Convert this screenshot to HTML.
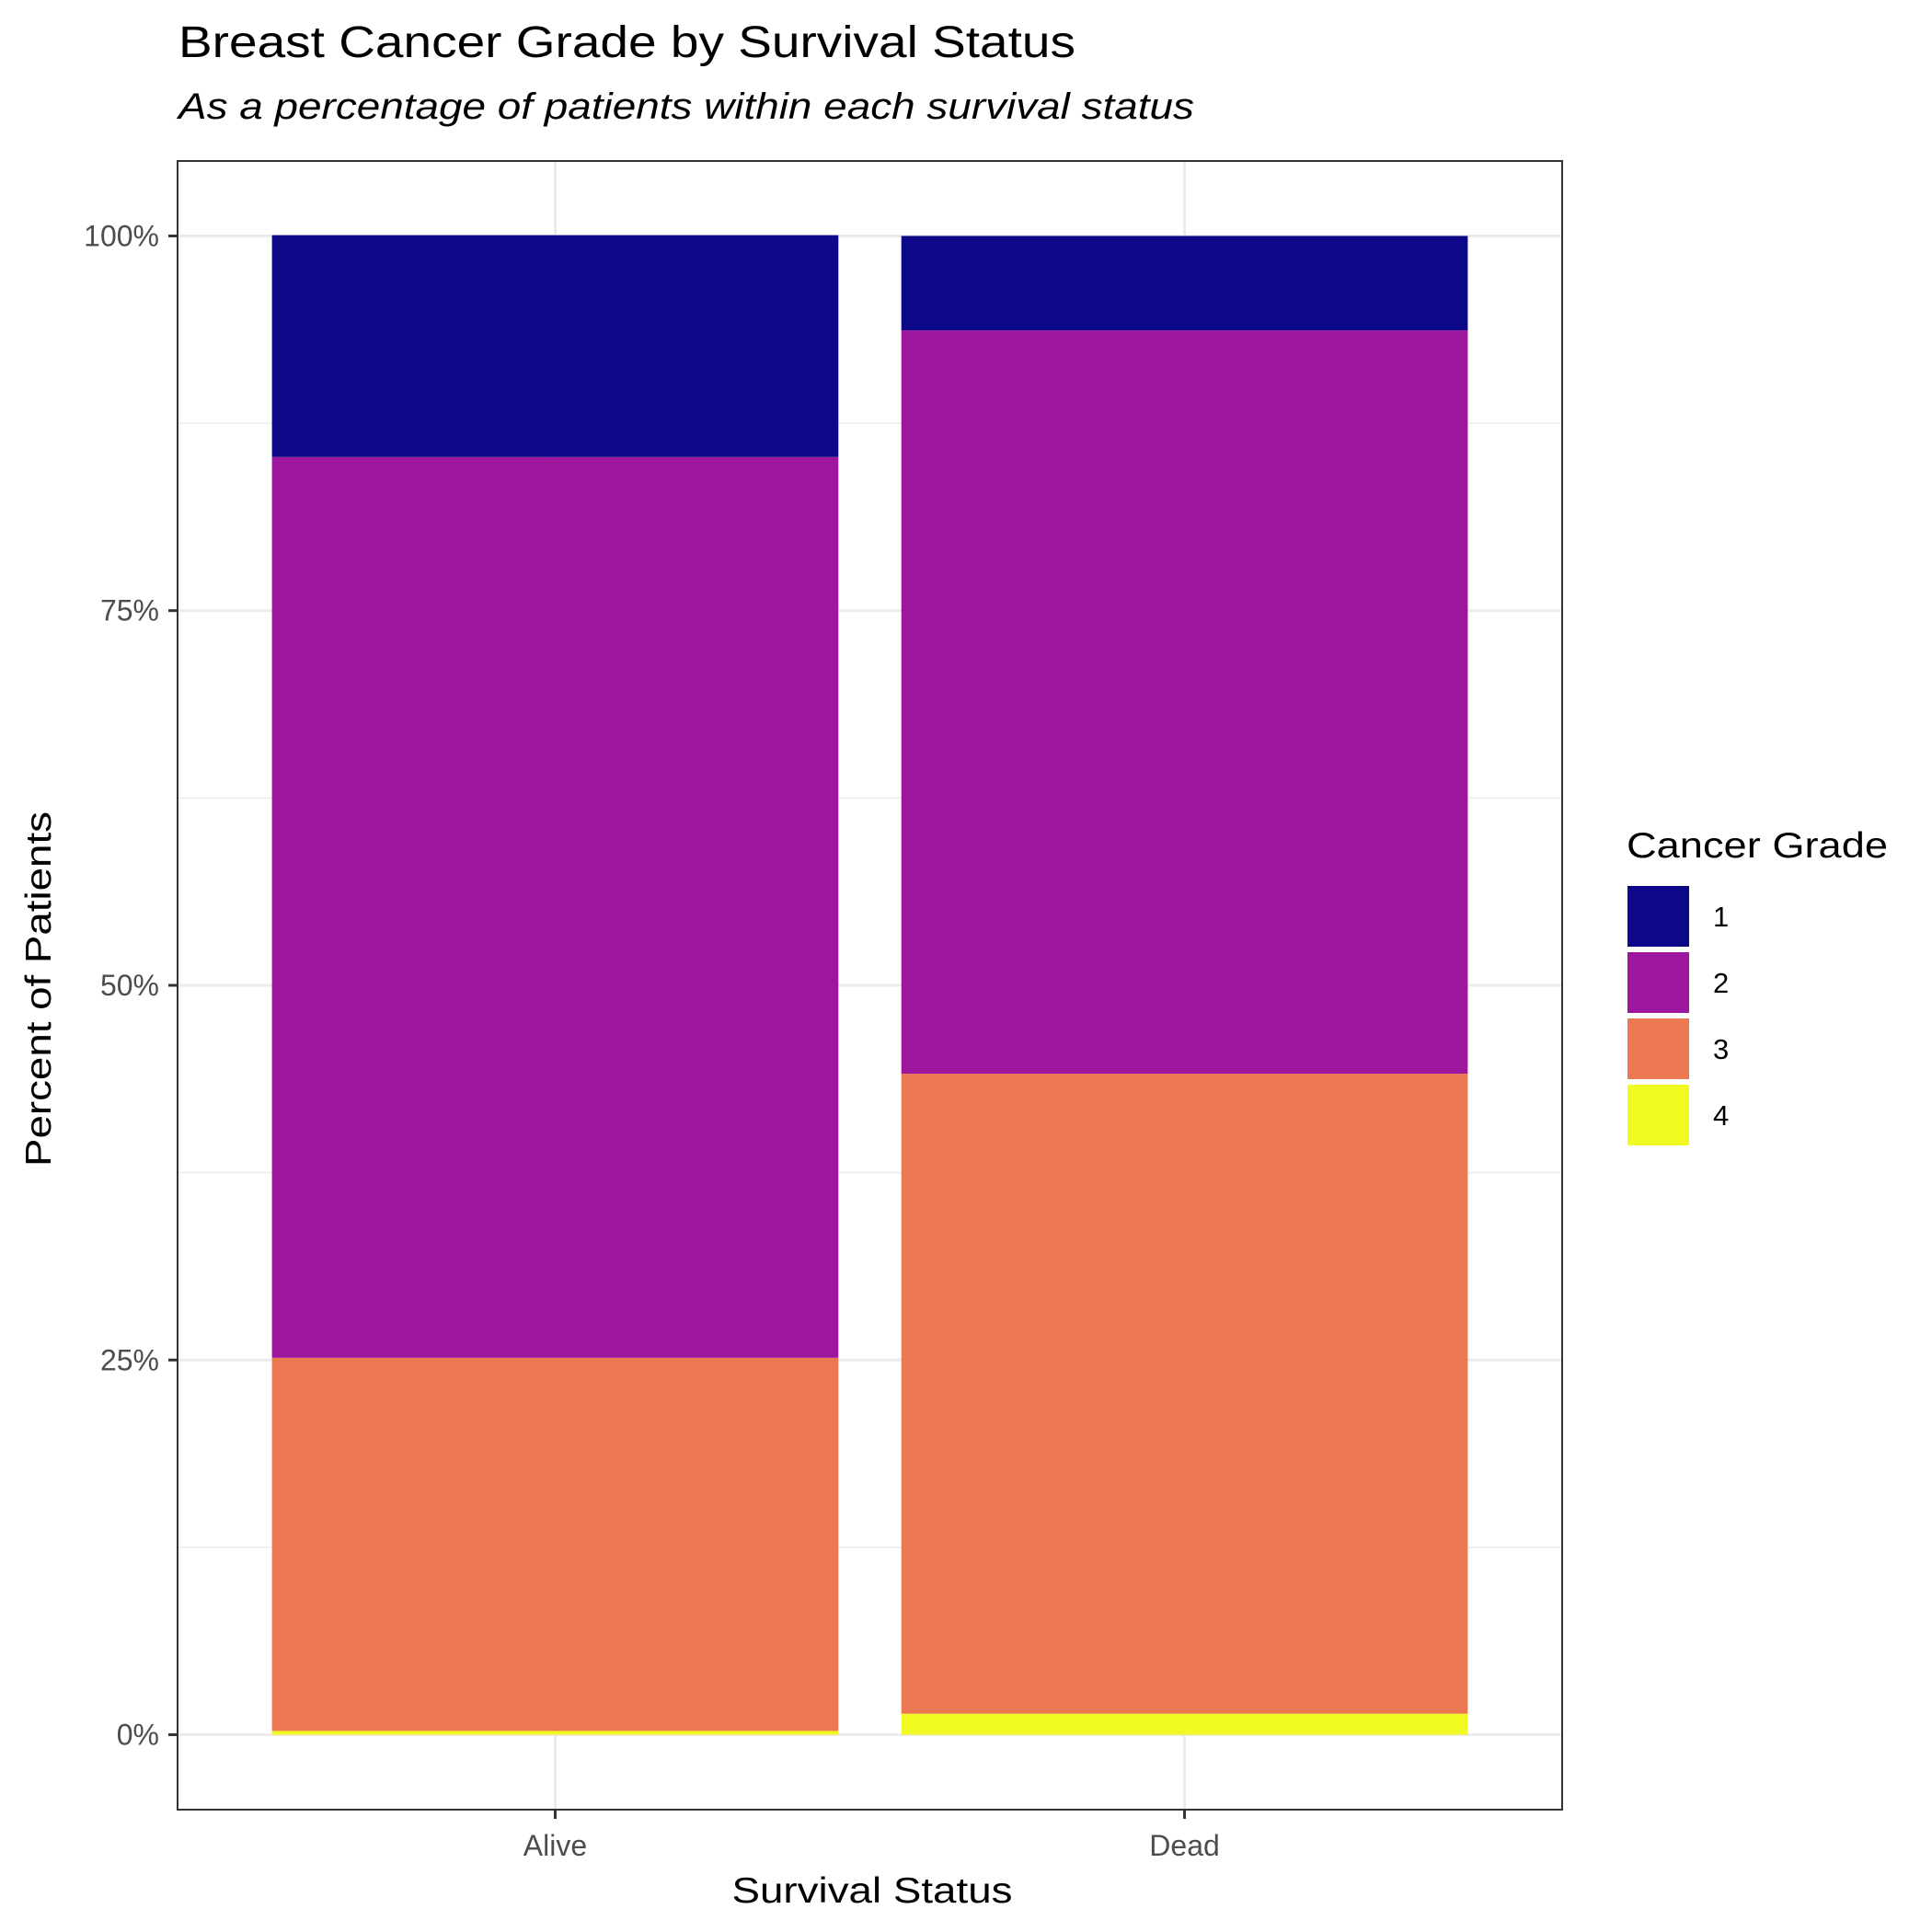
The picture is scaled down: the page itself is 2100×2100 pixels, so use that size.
<!DOCTYPE html>
<html><head><meta charset="utf-8"><style>
html,body{margin:0;padding:0;background:#fff}
svg{display:block;font-family:"Liberation Sans",Arial,sans-serif}
</style></head><body>
<svg id="chart" width="2100" height="2100" viewBox="0 0 2100 2100">
<rect x="0" y="0" width="2100" height="2100" fill="#fff"/>
<text x="194" y="62" font-size="48" fill="#000" textLength="975" lengthAdjust="spacingAndGlyphs">Breast Cancer Grade by Survival Status</text>
<text x="194" y="129" font-size="40" font-style="italic" fill="#000" textLength="1104" lengthAdjust="spacingAndGlyphs">As a percentage of patients within each survival status</text>
<g id="grid"></g>
<g id="bars"></g>
<rect x="193" y="175" width="1505" height="1792" fill="none" stroke="#333" stroke-width="2"/>
<g id="axes"></g>
<text x="948" y="2068" font-size="39" text-anchor="middle" fill="#000" textLength="305" lengthAdjust="spacingAndGlyphs">Survival Status</text>
<text transform="translate(55,1075) rotate(-90)" font-size="39" text-anchor="middle" fill="#000" textLength="386" lengthAdjust="spacingAndGlyphs">Percent of Patients</text>
<g id="legend">
<text x="1768" y="932" font-size="39" fill="#000" textLength="284" lengthAdjust="spacingAndGlyphs">Cancer Grade</text>
</g>
</svg>
<script>
const categories = ["Alive", "Dead"];
const grades = ["1", "2", "3", "4"];
const grade1 = [14.8, 6.3];
const grade2 = [60.1, 49.6];
const grade3 = [24.9, 42.7];
const grade4 = [0.25, 1.4];
const yTicks = [0, 25, 50, 75, 100];
const yTickLabels = ["0%", "25%", "50%", "75%", "100%"];
const yMinor = [12.5, 37.5, 62.5, 87.5];
const colors = ["#0d0887", "#9c179e", "#ed7953", "#f0f921"];

const NS = "http://www.w3.org/2000/svg";
const P = {l:193, r:1698, t:175, b:1967};
const yMin = -5, yMax = 105;
function y(v){ return P.b - (v - yMin) / (yMax - yMin) * (P.b - P.t); }
const bandW = (P.r - P.l) / (categories.length + 0.2);
function xc(i){ return P.l + bandW * (0.6 + i); }
const barW = bandW * 0.9;
function mk(tag, attrs, parent){ const e=document.createElementNS(NS,tag); for(const k in attrs) e.setAttribute(k,attrs[k]); parent.appendChild(e); return e; }

const grid = document.getElementById('grid');
yMinor.forEach(v=>{
  const l = mk('line',{x1:P.l,x2:P.r,y1:y(v),y2:y(v),stroke:'#ebebeb','stroke-width':1.5},grid);
  
  
});
yTicks.forEach(v=>{
  const l = mk('line',{x1:P.l,x2:P.r,y1:y(v),y2:y(v),stroke:'#ebebeb','stroke-width':3},grid);
  
  
});
categories.forEach((c,i)=>{
  const l = mk('line',{x1:xc(i),x2:xc(i),y1:P.t,y2:P.b,stroke:'#ebebeb','stroke-width':3},grid);
  
  
});

const bars = document.getElementById('bars');
const series = [grade4, grade3, grade2, grade1];
const seriesColors = [colors[3], colors[2], colors[1], colors[0]];
const seriesNames = ["4","3","2","1"];
categories.forEach((c,i)=>{
  let cum = 0;
  series.forEach((s,k)=>{
    const v = s[i];
    const top = y(cum + v), bot = y(cum);
    const r = mk('rect',{x:xc(i)-barW/2,y:top,width:barW,height:bot-top,fill:seriesColors[k]},bars);
    
    
    cum += v;
  });
});

const axes = document.getElementById('axes');
yTicks.forEach((v,i)=>{
  const t = mk('line',{x1:P.l-10,x2:P.l,y1:y(v),y2:y(v),stroke:'#333','stroke-width':3},axes);
  
  
  const tx = mk('text',{x:P.l-20,y:y(v)+11,'font-size':32,'text-anchor':'end',fill:'#4d4d4d'},axes);
  tx.textContent = yTickLabels[i];
  
  
});
categories.forEach((c,i)=>{
  const t = mk('line',{x1:xc(i),x2:xc(i),y1:P.b,y2:P.b+10,stroke:'#333','stroke-width':3},axes);
  
  
  const tx = mk('text',{x:xc(i),y:2017,'font-size':32,'text-anchor':'middle',fill:'#4d4d4d'},axes);
  tx.textContent = c;
  
  
});

const legend = document.getElementById('legend');
grades.forEach((g,i)=>{
  const ky = 963 + i*72;
  const r = mk('rect',{x:1769,y:ky,width:67,height:66,fill:colors[i]},legend);
  
  
  const tx = mk('text',{x:1862,y:ky+44,'font-size':31,fill:'#000'},legend);
  tx.textContent = g;
  
  
});
</script>
</body></html>
